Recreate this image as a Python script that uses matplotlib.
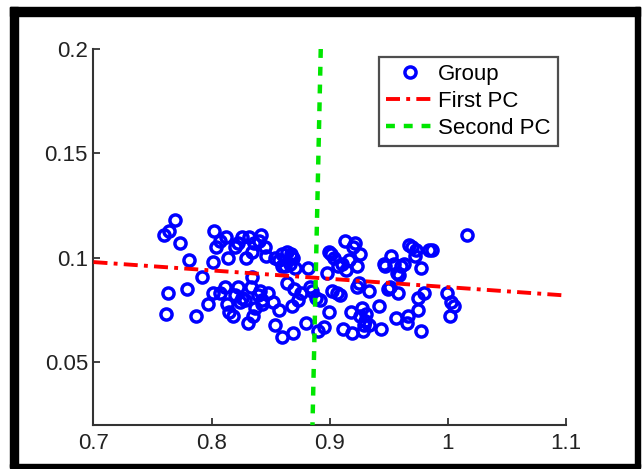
import matplotlib.pyplot as plt
from matplotlib.patches import Rectangle

plt.rcParams["font.family"] = ["Liberation Sans", "DejaVu Sans"]

# scatter points
group_x = [0.760, 0.769, 0.773, 0.764,
           0.781, 0.779, 0.763, 0.761, 0.787, 0.792, 0.797, 0.801, 0.802, 0.804, 0.812, 0.814, 0.807,
           0.801, 0.807, 0.811, 0.813, 0.815, 0.818, 0.820, 0.822, 0.824, 0.826, 0.828, 0.831, 0.833,
           0.834, 0.835, 0.837, 0.839, 0.841, 0.843, 0.843,
           0.820, 0.822, 0.826, 0.829, 0.832, 0.834, 0.836, 0.840, 0.842, 0.845, 0.846,
           0.848, 0.852, 0.854, 0.857, 0.860, 0.862, 0.864, 0.866, 0.867, 0.868, 0.869, 0.870, 0.871, 0.873,
           0.854, 0.857, 0.860, 0.860, 0.864, 0.867, 0.869,
           0.876, 0.880, 0.882, 0.883, 0.885, 0.888, 0.890, 0.892, 0.895, 0.898, 0.899,
           0.899, 0.901, 0.904, 0.907, 0.910, 0.902, 0.906, 0.909, 0.911, 0.913, 0.914, 0.916, 0.918,
           0.919, 0.920, 0.921, 0.923, 0.923, 0.925, 0.926, 0.926, 0.927, 0.928, 0.929, 0.930, 0.931,
           0.933, 0.933,
           0.942, 0.943, 0.946, 0.947, 0.949, 0.951, 0.952, 0.954, 0.956, 0.957, 0.958, 0.959, 0.960,
           0.963, 0.965, 0.966, 0.967, 0.970, 0.972, 0.973, 0.975, 0.975, 0.977, 0.977, 0.980, 0.984, 0.987,
           0.999, 1.003, 1.005, 1.002, 1.016]
group_y = [0.111, 0.118, 0.107, 0.113,
           0.099, 0.085, 0.083, 0.073, 0.072, 0.091, 0.078, 0.098, 0.113, 0.105, 0.110, 0.100, 0.108,
           0.083, 0.083, 0.086, 0.078, 0.074, 0.072, 0.082, 0.086, 0.079, 0.081, 0.080, 0.069, 0.086,
           0.091, 0.072, 0.076, 0.082, 0.084, 0.078, 0.080,
           0.105, 0.107, 0.110, 0.100, 0.110, 0.103, 0.107, 0.108, 0.111, 0.105, 0.101,
           0.083, 0.079, 0.068, 0.075, 0.062, 0.096, 0.088, 0.097, 0.102, 0.077, 0.064, 0.085, 0.095, 0.080,
           0.100, 0.099, 0.102, 0.096, 0.103, 0.101, 0.100,
           0.083, 0.069, 0.095, 0.086, 0.084, 0.081, 0.065, 0.080, 0.067, 0.093, 0.074,
           0.103, 0.102, 0.100, 0.096, 0.097, 0.084, 0.083, 0.082, 0.066, 0.108, 0.094, 0.099, 0.074,
           0.064, 0.105, 0.107, 0.096, 0.086, 0.088, 0.072, 0.102, 0.076, 0.065, 0.068, 0.070, 0.073,
           0.084, 0.068,
           0.077, 0.066, 0.097, 0.096, 0.085, 0.086, 0.101, 0.097, 0.071, 0.093, 0.083, 0.092, 0.096,
           0.097, 0.069, 0.072, 0.106, 0.105, 0.101, 0.104, 0.075, 0.081, 0.095, 0.065, 0.083, 0.104, 0.104,
           0.083, 0.079, 0.077, 0.072, 0.111]

# principal component directions (end points)
pc1_x = [0.7, 1.1]
pc1_y = [0.098, 0.082]
pc2_x = [0.8924, 0.8854]
pc2_y = [0.2, 0.02]

xticks = [0.7, 0.8, 0.9, 1.0, 1.1]
xtick_labels = ["0.7", "0.8", "0.9", "1", "1.1"]
yticks = [0.05, 0.1, 0.15, 0.2]
ytick_labels = ["0.05", "0.1", "0.15", "0.2"]

fig = plt.figure(figsize=(6.43, 4.69), dpi=100)
ax = fig.add_axes([0.1454, 0.0938, 0.7348, 0.8017])

ax.plot(group_x, group_y, "o", mfc="none", mec="#0000ff", ms=8, mew=2.5,
        label="Group", zorder=2)
ax.plot(pc1_x, pc1_y, color="#ff0000", lw=2.8, dashes=(3.6, 1.6, 1, 1.6),
        label="First PC", zorder=3)
ax.plot(pc2_x, pc2_y, color="#00e600", lw=3.2, dashes=(2, 2),
        label="Second PC", zorder=3)

ax.set_xlim(0.7, 1.1)
ax.set_ylim(0.02, 0.2)
ax.set_xticks(xticks, xtick_labels)
ax.set_yticks(yticks, ytick_labels)
ax.tick_params(direction="in", length=5, width=1.2, labelsize=16,
               colors="#222222")
ax.tick_params(axis="x", pad=6)
ax.tick_params(axis="y", pad=4)
for side in ["top", "right"]:
    ax.spines[side].set_visible(False)
for side in ["left", "bottom"]:
    ax.spines[side].set_linewidth(1.5)
    ax.spines[side].set_color("#333333")

leg = ax.legend(loc="upper left", bbox_to_anchor=(0.604, 0.979), fontsize=16,
                frameon=True, fancybox=False, edgecolor="#222222",
                handlelength=2.2, handletextpad=0.15, labelspacing=0.26,
                borderpad=0.32, borderaxespad=0)
leg.get_frame().set_linewidth(1.6)

# thick black frame around the picture
W, H = 643, 469
for x0, y0, w, h in [(10, 7, 8, 460), (10, 7, 630, 9), (635, 7, 5, 460), (10, 464, 630, 4)]:
    fig.patches.append(Rectangle((x0 / W, 1 - (y0 + h) / H), w / W, h / H,
                                 transform=fig.transFigure, color="black"))

fig.savefig("out.png", dpi=100)
